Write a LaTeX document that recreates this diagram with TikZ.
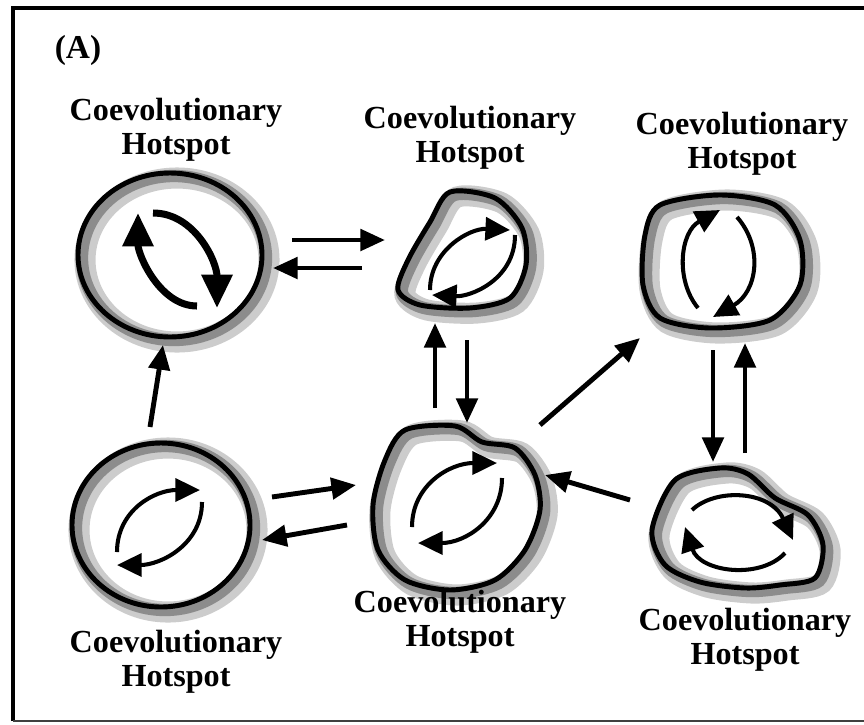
\documentclass[tikz,border=0pt]{standalone}
\usepackage{fontspec}
\setmainfont{Liberation Serif}
\usetikzlibrary{arrows.meta}

\tikzset{
  rim/.style={line width=2.8pt},
  halo/.style={line width=12pt, black!20, shift={(7,5)}},
  glow/.style={line width=7pt, black!45, shift={(4,3)}},
  spin/.style={line width=2.3pt, -{Triangle[length=14pt,width=13pt]}},
  bigspin/.style={line width=4pt, -{Triangle[length=19pt,width=17pt]}},
  link/.style={line width=2.8pt, -{Triangle[length=14pt,width=12pt]}},
  hotlabel/.style={font=\bfseries\fontsize{18.3}{19.5}\selectfont, align=center}
}

% outlines of the six hotspots
\def\blobTL{(170,255) ellipse [x radius=92, y radius=82]}
\def\blobTM{plot[smooth cycle] coordinates {(450,192) (495,198) (522,228) (526,265) (510,298) (470,308) (420,305) (398,290) (408,260) (430,222)}}
\def\blobTR{plot[smooth cycle] coordinates {(660,205) (720,195) (775,205) (800,240) (800,285) (770,320) (710,328) (660,318) (643,285) (645,235)}}
\def\blobBL{(161,525) ellipse [x radius=89, y radius=82]}
\def\blobBM{plot[smooth cycle] coordinates {(405,430) (455,426) (482,442) (515,448) (535,475) (540,510) (525,550) (495,580) (450,590) (405,580) (378,550) (373,505) (385,460)}}
\def\blobBR{plot[smooth cycle] coordinates {(675,480) (720,468) (748,474) (775,498) (808,515) (823,545) (815,578) (780,585) (745,588) (700,582) (665,565) (652,530)}}

\begin{document}
\begin{tikzpicture}[x=0.02cm,y=-0.02cm]
\useasboundingbox (0,0) rectangle (864,724);
\draw[line width=2.2pt] (13,721) -- (13,8) -- (864,8);
\draw[line width=1.2pt, black!75] (13,721) -- (864,721);
\node[font=\bfseries\fontsize{19}{21}\selectfont] (tagA) at (78,50) {(A)};

% hotspots
\foreach \b in {\blobTL,\blobTM,\blobTR,\blobBL,\blobBM,\blobBR}{
  \draw[halo] \b;
  \draw[glow] \b;
  \draw[rim] \b;
}

% reciprocal arrows inside
\draw[bigspin] (197,306) .. controls (160,306) and (138,255) .. (138,213);
\draw[bigspin] (153,213) .. controls (195,213) and (217,262) .. (217,308);
\draw[spin] (430,290) .. controls (430,250) and (470,228) .. (510,230);
\draw[spin] (515,235) .. controls (515,280) and (470,297) .. (432,295);
\draw[spin] (698,308) .. controls (675,280) and (680,232) .. (720,210);
\draw[spin] (737,217) .. controls (764,248) and (757,292) .. (713,317);
\draw[spin] (117,552) .. controls (117,510) and (155,490) .. (200,490);
\draw[spin] (202,502) .. controls (202,545) and (160,565) .. (117,565);
\draw[spin] (412,527) .. controls (412,485) and (450,463) .. (497,463);
\draw[spin] (502,478) .. controls (502,520) and (465,543) .. (418,543);
\draw[spin] (692,510) .. controls (715,488) and (770,490) .. (793,540);
\draw[spin] (785,553) .. controls (760,580) and (700,572) .. (685,527);

% labels
\node[hotlabel] (labTL) at (176,130) {Coevolutionary\\Hotspot};
\node[hotlabel] (labTM) at (470,138) {Coevolutionary\\Hotspot};
\node[hotlabel] (labTR) at (742,144) {Coevolutionary\\Hotspot};
\node[hotlabel] (labBL) at (176,662) {Coevolutionary\\Hotspot};
\node[hotlabel] (labBM) at (460,622) {Coevolutionary\\Hotspot};
\node[hotlabel] (labBR) at (745,640) {Coevolutionary\\Hotspot};

% gene flow between hotspots
\coordinate (a1s) at (292,240); \coordinate (a1e) at (385,240);
\coordinate (a2s) at (362,268); \coordinate (a2e) at (273,268);
\coordinate (a3s) at (435,408); \coordinate (a3e) at (435,323);
\coordinate (a4s) at (467,340); \coordinate (a4e) at (467,423);
\coordinate (a5s) at (150,427); \coordinate (a5e) at (163,345);
\coordinate (a6s) at (272,497); \coordinate (a6e) at (356,485);
\coordinate (a7s) at (347,525); \coordinate (a7e) at (262,540);
\coordinate (a8s) at (540,425); \coordinate (a8e) at (640,338);
\coordinate (a9s) at (630,500); \coordinate (a9e) at (545,475);
\coordinate (a10s) at (713,350); \coordinate (a10e) at (713,462);
\coordinate (a11s) at (745,453); \coordinate (a11e) at (745,343);
\foreach \i in {1,...,11}
  \draw[link] (a\i s) -- (a\i e);
\end{tikzpicture}
\end{document}
